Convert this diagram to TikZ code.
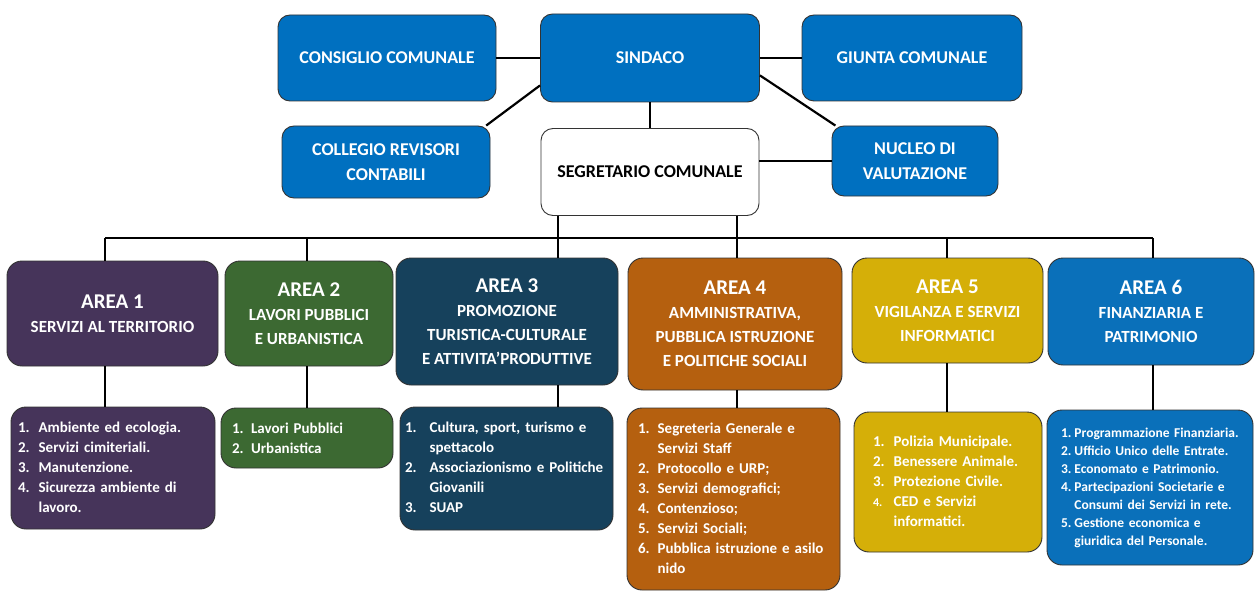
\documentclass[tikz,border=0pt]{standalone}
\usepackage{fontspec}
\setmainfont{Carlito}
\usetikzlibrary{positioning}
\definecolor{topblue}{HTML}{0070C0}
\definecolor{areaone}{HTML}{46345A}
\definecolor{areatwo}{HTML}{3C6932}
\definecolor{areathree}{HTML}{16415C}
\definecolor{areafour}{HTML}{B5600F}
\definecolor{areafive}{HTML}{D5AF08}
\definecolor{areasix}{HTML}{0A70BA}

\begin{document}
\begin{tikzpicture}[x=1pt, y=-1pt,
    box/.style={rectangle, draw=black!80, line width=0.9pt, rounded corners=12pt,
                fill=topblue, text=white, align=center, inner sep=2pt,
                font=\bfseries\fontsize{18}{25}\selectfont},
    area/.style={box, rounded corners=15pt, font=\bfseries\fontsize{17}{24}\selectfont},
    list/.style={box, rounded corners=15pt, align=left,
                 font=\bfseries\fontsize{15}{20}\selectfont},
    link/.style={line width=2.2pt, black}
  ]
  \useasboundingbox (0,0) rectangle (1256,591);

  % vertici
  \node[box, minimum width=219pt, minimum height=88pt] (sindaco) at (650,58) {SINDACO};
  \node[box, minimum width=218pt, minimum height=86pt] (consiglio) at (387,58) {CONSIGLIO COMUNALE};
  \node[box, minimum width=220pt, minimum height=86pt] (giunta) at (912,58) {GIUNTA COMUNALE};
  \node[box, minimum width=208pt, minimum height=72pt] (collegio) at (386,162) {COLLEGIO REVISORI\\CONTABILI};
  \node[box, fill=white, text=black, minimum width=218pt, minimum height=87pt] (segr) at (650,172) {SEGRETARIO COMUNALE};
  \node[box, minimum width=166pt, minimum height=70pt] (nucleo) at (915,161) {NUCLEO DI\\VALUTAZIONE};

  % aree
  \node[area, fill=areaone, minimum width=211pt, minimum height=105pt] (a1) at (112.5,313.5)
    {{\fontsize{21}{24}\selectfont AREA 1}\\SERVIZI AL TERRITORIO};
  \node[area, fill=areatwo, minimum width=168pt, minimum height=105pt] (a2) at (309,313.5)
    {{\fontsize{21}{24}\selectfont AREA 2}\\LAVORI PUBBLICI\\E URBANISTICA};
  \node[area, fill=areathree, minimum width=222pt, minimum height=127pt] (a3) at (507,321.5)
    {{\fontsize{21}{24}\selectfont AREA 3}\\PROMOZIONE\\TURISTICA-CULTURALE\\E ATTIVITA'PRODUTTIVE};
  \node[area, fill=areafour, minimum width=214pt, minimum height=132pt] (a4) at (735,324)
    {{\fontsize{21}{24}\selectfont AREA 4}\\AMMINISTRATIVA,\\PUBBLICA ISTRUZIONE\\E POLITICHE SOCIALI};
  \node[area, fill=areafive, minimum width=191pt, minimum height=105pt] (a5) at (947.5,310.5)
    {{\fontsize{21}{24}\selectfont AREA 5}\\VIGILANZA E SERVIZI\\INFORMATICI};
  \node[area, fill=areasix, minimum width=206pt, minimum height=107pt] (a6) at (1151,311.5)
    {{\fontsize{21}{24}\selectfont AREA 6}\\FINANZIARIA E\\PATRIMONIO};

  % servizi
  \node[list, fill=areaone, inner xsep=7pt, text width=190pt, minimum height=122pt] (l1) at (113,468)
    {\begin{tabular}{@{}l@{\hspace{9pt}}l@{}}
      1. & Ambiente ed ecologia.\\
      2. & Servizi cimiteriali.\\
      3. & Manutenzione.\\
      4. & Sicurezza ambiente di\\
         & lavoro.
    \end{tabular}};
  \node[list, fill=areatwo, inner xsep=11pt, text width=150pt, minimum height=60pt] (l2) at (307,438)
    {1. Lavori Pubblici\\2. Urbanistica};
  \node[list, fill=areathree, inner xsep=5pt, text width=203pt, minimum height=123pt] (l3) at (506.5,468.5)
    {\begin{tabular}{@{}l@{\hspace{13pt}}l@{}}
      1. & Cultura, sport, turismo e\\
         & spettacolo\\
      2. & Associazionismo e Politiche\\
         & Giovanili\\
      3. & SUAP
    \end{tabular}};
  \node[list, fill=areafour, inner xsep=11pt, text width=191pt, minimum height=182pt] (l4) at (733.5,499)
    {\begin{tabular}{@{}l@{\hspace{8pt}}l@{}}
      1. & Segreteria Generale e\\
         & Servizi Staff\\
      2. & Protocollo e URP;\\
      3. & Servizi demografici;\\
      4. & Contenzioso;\\
      5. & Servizi Sociali;\\
      6. & Pubblica istruzione e asilo\\
         & nido
    \end{tabular}};
  \node[list, fill=areafive, inner xsep=19pt, text width=150pt, minimum height=140pt] (l5) at (948,482)
    {\begin{tabular}{@{}l@{\hspace{9pt}}l@{}}
      1. & Polizia Municipale.\\
      2. & Benessere Animale.\\
      3. & Protezione Civile.\\
      {\fontsize{12}{20}\selectfont 4.} & CED e Servizi\\
         & informatici.
    \end{tabular}};
  \node[list, fill=areasix, inner xsep=14pt, text width=178pt, minimum height=155pt,
        font=\bfseries\fontsize{13.5}{18}\selectfont] (l6) at (1150,487.5)
    {\begin{tabular}{@{}l@{\hspace{3pt}}l@{}}
      1. & Programmazione Finanziaria.\\
      2. & Ufficio Unico delle Entrate.\\
      3. & Economato e Patrimonio.\\
      4. & Partecipazioni Societarie e\\
         & Consumi dei Servizi in rete.\\
      5. & Gestione economica e\\
         & giuridica del Personale.
    \end{tabular}};

  % collegamenti
  \draw[link] (consiglio) -- (sindaco);
  \draw[link] (sindaco) -- (giunta);
  \draw[link] (sindaco) -- (segr);
  \draw[link] (sindaco.194) -- (collegio.20);
  \draw[link] (sindaco.351) -- (nucleo.156);
  \draw[link] (nucleo.west -| segr.east) -- (nucleo.west);

  \coordinate (busL) at (105,238);
  \coordinate (busR) at (1153,238);
  \draw[link] (busL) -- (busR);
  \foreach \x/\i in {105/1,307/2,558/3,737/4,947/5,1153/6}{
    \draw[link] (\x,238) coordinate (d\i) -- (d\i |- a\i.north);
    \draw[link] (d\i |- a\i.south) -- (d\i |- l\i.north);
  }
  \draw[link] (d3 |- segr.south) -- (d3);
  \draw[link] (d4 |- segr.south) -- (d4);
\end{tikzpicture}
\end{document}
